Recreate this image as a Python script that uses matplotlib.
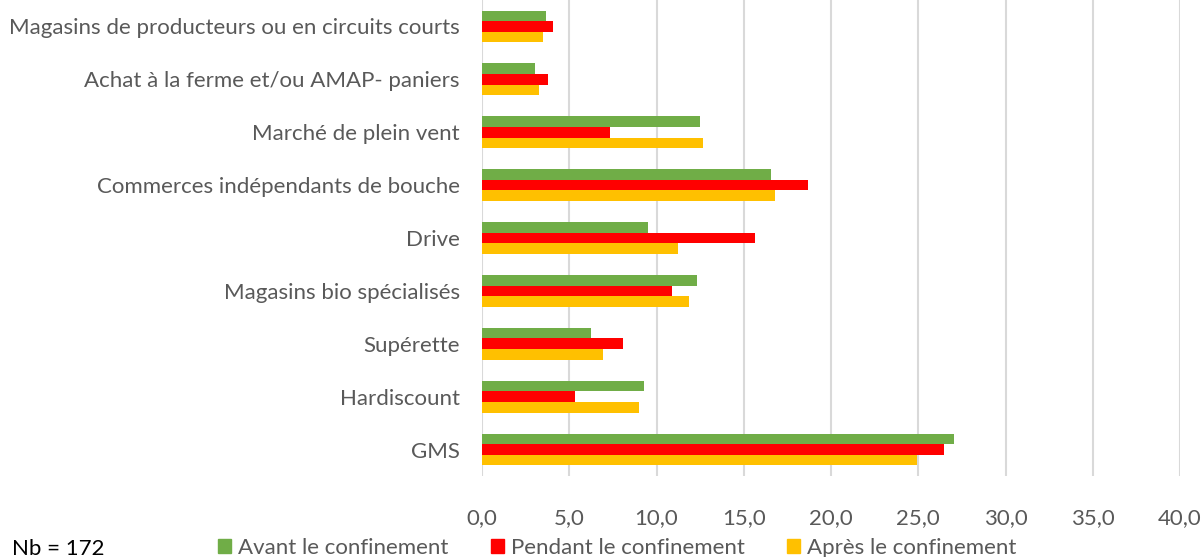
import matplotlib
matplotlib.use("Agg")
import matplotlib.pyplot as plt
import numpy as np
from matplotlib.patches import Patch

categories = ["Magasins de producteurs ou en circuits courts",
              "Achat à la ferme et/ou AMAP- paniers",
              "Marché de plein vent",
              "Commerces indépendants de bouche",
              "Drive",
              "Magasins bio spécialisés",
              "Supérette",
              "Hardiscount",
              "GMS"]
avant = [3.66, 3.06, 12.51, 16.57, 9.52, 12.34, 6.27, 9.29, 27.03]
pendant = [4.06, 3.78, 7.34, 18.68, 15.65, 10.86, 8.07, 5.31, 26.5]
apres = [3.47, 3.29, 12.67, 16.78, 11.26, 11.88, 6.95, 9.0, 24.92]
series_names = ["Avant le confinement", "Pendant le confinement", "Après le confinement"]
colors = ["#70AD47", "#FF0000", "#FFC000"]
xticks = [0, 5, 10, 15, 20, 25, 30, 35, 40]

plt.rcParams['font.family'] = ['Lato', 'DejaVu Sans']
fig = plt.figure(figsize=(12.04, 5.57), dpi=100)
ax = fig.add_axes([482/1204, 1 - 476/557, (1180-482)/1204, 476/557])

y = np.arange(len(categories))
h = 0.2
for off, vals, c, n in zip([-h, 0, h], [avant, pendant, apres], colors, series_names):
    ax.barh(y + off, vals, height=h, color=c, label=n, zorder=3)

ax.set_xlim(0, 40)
ax.set_ylim(len(categories) - 0.5, -0.5)
ax.set_xticks(xticks)
ax.set_xticklabels([f"{v:.1f}".replace(".", ",") for v in xticks])
ax.set_yticks(y)
ax.set_yticklabels(categories)
ax.grid(axis='x', color='#d9d9d9', linewidth=1.5, zorder=0)
for s in ax.spines.values():
    s.set_visible(False)
ax.tick_params(axis='both', length=0, labelsize=16, labelcolor='#595959')
ax.tick_params(axis='x', pad=23)
ax.tick_params(axis='y', pad=16)

handles = [Patch(color=c, label=n) for c, n in zip(colors, series_names)]
fig.legend(handles=handles, loc='center', bbox_to_anchor=(617/1204, 1 - 548/557),
           ncol=3, frameon=False, fontsize=16, labelcolor='#595959',
           handlelength=0.6, handleheight=0.6, handletextpad=0.3, columnspacing=1.9,
           borderpad=0)
fig.text(12/1204, 1 - 549/557, "Nb = 172", fontsize=16, color='black', va='center', ha='left')

fig.savefig("out.png", dpi=100)
